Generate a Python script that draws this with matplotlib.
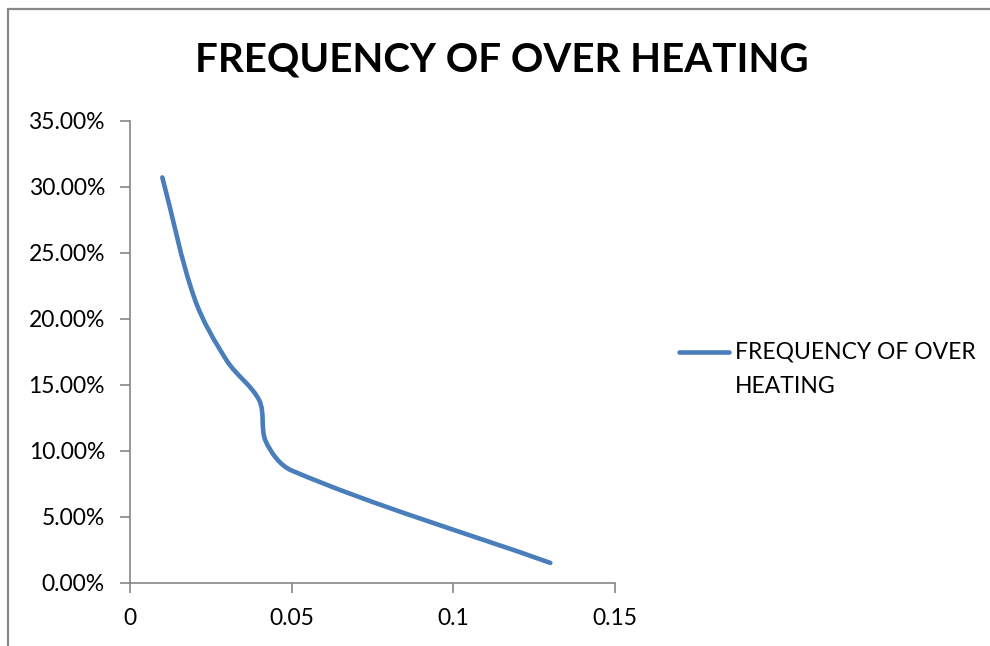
import matplotlib
matplotlib.use("Agg")
import matplotlib.pyplot as plt
import numpy as np
from matplotlib.path import Path
from matplotlib.patches import PathPatch, Rectangle
from matplotlib.lines import Line2D
from matplotlib.ticker import PercentFormatter

plt.rcParams["font.family"] = ["Lato", "DejaVu Sans"]

# Data
x_vals = [0.01, 0.02, 0.03, 0.04, 0.042, 0.05, 0.13]
y_vals = [0.307, 0.215, 0.168, 0.138, 0.107, 0.085, 0.015]
series_name = "FREQUENCY OF OVER\nHEATING"
title = "FREQUENCY OF OVER HEATING"
x_ticks = [0, 0.05, 0.1, 0.15]
x_tick_labels = ["0", "0.05", "0.1", "0.15"]
y_ticks = [0, 0.05, 0.10, 0.15, 0.20, 0.25, 0.30, 0.35]

line_color = "#4A7EBB"
axis_color = "#868686"

fig = plt.figure(figsize=(9.9, 6.46), dpi=100)
ax = fig.add_axes([130 / 990, 1 - 582.7 / 646, 485 / 990, 462 / 646])

ax.set_xlim(0, 0.15)
ax.set_ylim(0, 0.35)
ax.set_xticks(x_ticks)
ax.set_xticklabels(x_tick_labels)
ax.set_yticks(y_ticks)
ax.yaxis.set_major_formatter(PercentFormatter(1.0, decimals=2))

for s in ["top", "right"]:
    ax.spines[s].set_visible(False)
for s in ["left", "bottom"]:
    ax.spines[s].set_color(axis_color)
    ax.spines[s].set_linewidth(1.2)
ax.tick_params(axis="both", colors=axis_color, length=7, width=1.2,
               labelcolor="black", labelsize=16.5)
ax.tick_params(axis="x", pad=11)
ax.tick_params(axis="y", pad=11)

# Excel-style smoothed line: Bezier segments built in display space
fig.canvas.draw()
pts = ax.transData.transform(np.column_stack([x_vals, y_vals]))
n = len(pts)
verts = [pts[0]]
codes = [Path.MOVETO]
for i in range(n - 1):
    p0 = pts[i - 1] if i > 0 else pts[i]
    p1, p2 = pts[i], pts[i + 1]
    p3 = pts[i + 2] if i + 2 < n else pts[i + 1]
    d0 = np.hypot(*(p1 - p0))
    d1 = np.hypot(*(p2 - p1))
    d2 = np.hypot(*(p3 - p2))
    c1 = p1 + (p2 - p0) * d1 / (3 * (d0 + d1)) if i > 0 else p1 + (p2 - p1) / 3
    c2 = p2 - (p3 - p1) * d1 / (3 * (d1 + d2)) if i + 2 < n else p2 - (p2 - p1) / 3
    verts += [c1, c2, p2]
    codes += [Path.CURVE4] * 3
verts = ax.transData.inverted().transform(np.array(verts))
curve = PathPatch(Path(verts, codes), facecolor="none", edgecolor=line_color,
                  linewidth=3.3, capstyle="round", joinstyle="round",
                  transform=ax.transData, clip_on=False)
ax.add_patch(curve)

# Title
fig.text(502 / 990, 1 - 60 / 646, title, ha="center", va="center",
         fontsize=29, fontweight="bold")

# Legend (drawn by hand so the swatch sits on the first text line)
fig.add_artist(Line2D([679 / 990, 729 / 990], [1 - 352 / 646] * 2,
                      transform=fig.transFigure, color=line_color,
                      linewidth=3.3, solid_capstyle="round"))
fig.text(735 / 990, 1 - 342 / 646, series_name, ha="left", va="top",
         fontsize=16.5, linespacing=1.75)

# Chart border
fig.add_artist(Rectangle((7.5 / 990, -0.05), 1.1, 1 - 8.5 / 646 + 0.05,
                         transform=fig.transFigure, facecolor="none",
                         edgecolor="#888888", linewidth=1.6))

fig.savefig("out.png", dpi=100)
